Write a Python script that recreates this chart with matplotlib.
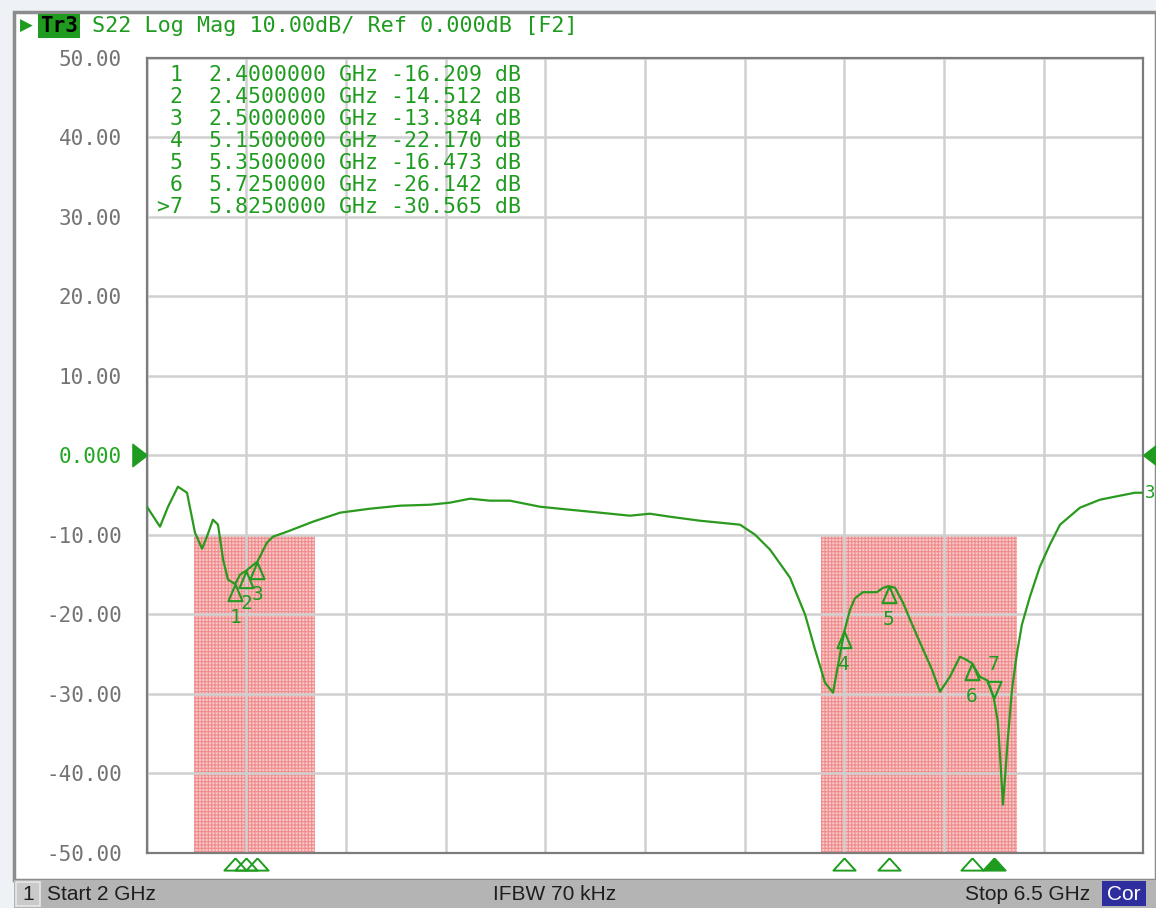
import numpy as np
import matplotlib
matplotlib.use('Agg')
import matplotlib.pyplot as plt
from matplotlib.patches import Rectangle
from matplotlib.path import Path
from matplotlib.ticker import FuncFormatter

W, H = 1156, 908

# S22 trace (GHz, dB)
freq_ghz = [2.001, 2.060, 2.096, 2.141, 2.182, 2.218, 2.250, 2.272, 2.299, 2.322,
            2.345, 2.367, 2.400, 2.421, 2.450, 2.500, 2.543, 2.570, 2.634, 2.751,
            2.873, 3.008, 3.144, 3.279, 3.369, 3.460, 3.550, 3.640, 3.776, 3.911,
            4.047, 4.182, 4.272, 4.363, 4.498, 4.679, 4.747, 4.815, 4.905, 4.973,
            5.018, 5.063, 5.099, 5.122, 5.150, 5.175, 5.198, 5.234, 5.297, 5.324,
            5.350, 5.379, 5.415, 5.447, 5.492, 5.546, 5.582, 5.627, 5.672, 5.699,
            5.725, 5.762, 5.798, 5.825, 5.843, 5.857, 5.866, 5.875, 5.888, 5.907,
            5.929, 5.952, 5.988, 6.033, 6.078, 6.124, 6.214, 6.304, 6.395, 6.462,
            6.500]
s22_db = [-6.48, -8.99, -6.50, -3.96, -4.72, -9.75, -11.76, -10.25, -8.11, -8.74,
          -13.14, -15.66, -16.21, -15.03, -14.51, -13.38, -11.00, -10.25, -9.62, -8.36,
          -7.23, -6.73, -6.35, -6.23, -5.97, -5.47, -5.72, -5.72, -6.48, -6.86,
          -7.23, -7.61, -7.36, -7.74, -8.24, -8.74, -10.00, -11.89, -15.41, -20.06,
          -24.47, -28.62, -29.87, -26.35, -22.17, -19.50, -17.99, -17.23, -17.23, -16.70,
          -16.47, -16.67, -18.55, -20.69, -23.58, -26.98, -29.75, -27.86, -25.35, -25.70,
          -26.14, -27.86, -28.37, -30.57, -33.50, -39.50, -43.96, -40.80, -35.80, -29.50,
          -25.00, -21.30, -17.80, -14.03, -11.26, -8.74, -6.60, -5.60, -5.09, -4.72,
          -4.72]

marker_ids = ['1', '2', '3', '4', '5', '6', '7']
marker_freq = [2.4, 2.45, 2.5, 5.15, 5.35, 5.725, 5.825]
marker_db = [-16.209, -14.512, -13.384, -22.170, -16.473, -26.142, -30.565]
active_marker = '7'

limit_bands = [(2.215, 2.76), (5.045, 5.93)]
limit_top = -10

green = '#1f9c1f'
mono = 'DejaVu Sans Mono'
plt.rcParams['hatch.linewidth'] = 0.8


def fx(x):
    return x / W


def fy(y):
    return 1 - y / H


fig = plt.figure(figsize=(W / 100, H / 100), dpi=100)
fig.patch.set_facecolor('#eef1f6')

# window panel and status bar (behind the axes)
fig.add_artist(Rectangle((fx(14), fy(880)), fx(1156 - 14), (880 - 12) / H,
                         transform=fig.transFigure, facecolor='white',
                         edgecolor='#8c8c8c', lw=2.5, zorder=-5))
fig.add_artist(Rectangle((fx(14), 0), fx(1156 - 14), 28 / H, transform=fig.transFigure,
                         facecolor='#b4b4b4', edgecolor='none', zorder=-4))
fig.add_artist(Rectangle((fx(16), fy(906)), fx(24), 24 / H, transform=fig.transFigure,
                         facecolor='#cacaca', edgecolor='#e8e8e8', lw=1.2, zorder=-3))
fig.add_artist(Rectangle((fx(1102), fy(906)), fx(44), 25 / H, transform=fig.transFigure,
                         facecolor='#2e2e9e', edgecolor='none', zorder=-3))

ax = fig.add_axes([fx(146.7), fy(852.7), 996.6 / W, 795 / H])
ax.set_facecolor('white')
ax.set_xlim(2, 6.5)
ax.set_ylim(-50, 50)
ax.set_xticks(np.linspace(2, 6.5, 11))
ax.set_yticks(np.arange(-50, 51, 10))
ax.xaxis.set_ticklabels([])
ax.yaxis.set_major_formatter(FuncFormatter(lambda v, p: '0.000' if v == 0 else '%.2f' % v))
ax.tick_params(length=0, pad=18)
ax.tick_params(axis='y', labelsize=15, labelcolor='#747474')
for lbl in ax.get_yticklabels():
    lbl.set_fontfamily(mono)
ax.get_yticklabels()[5].set_color('#22a822')
ax.grid(True, color='#d0d0d0', lw=1.8)
for sp in ax.spines.values():
    sp.set_color('#7c7c7c')
    sp.set_linewidth(1.6)

# limit bands
for lo, hi in limit_bands:
    ax.fill_between([lo, hi], -50, limit_top, facecolor='#f9c8c8', edgecolor='#f08c8c',
                    hatch='+++++', linewidth=0, zorder=0.5)

ax.plot(freq_ghz, s22_db, color='#2a9a1e', lw=1.6, zorder=3)

# trace markers
tri_up = Path([(0, 0), (-0.42, -1), (0.42, -1), (0, 0)])
tri_down = Path([(0, 0), (-0.42, 1), (0.42, 1), (0, 0)])
for mid, f, d in zip(marker_ids, marker_freq, marker_db):
    if mid == active_marker:
        mk, off = tri_down, 24
    else:
        mk, off = tri_up, -24
    ax.plot(f, d, marker=mk, ms=24, mfc='none', mec=green, mew=1.5, zorder=4)
    ax.annotate(mid, (f, d), xytext=(0, off), textcoords='offset points', ha='center',
                va='center', fontsize=14, family=mono, color=green, zorder=4)

# marker flags under the grid
flag = Path([(0, 0.55), (-1, -0.55), (1, -0.55), (0, 0.55)])
for mid, f in zip(marker_ids, marker_freq):
    ax.plot(f, -0.014, marker=flag, ms=16, transform=ax.get_xaxis_transform(),
            mfc=green if mid == active_marker else 'none', mec=green, mew=1.4,
            clip_on=False, zorder=5)

# reference position arrows
ref_left = Path([(0, 0), (-0.65, 0.5), (-0.65, -0.5), (0, 0)])
ref_right = Path([(0, 0), (0.65, 0.5), (0.65, -0.5), (0, 0)])
ax.plot(2, 0, marker=ref_left, ms=21, color=green, clip_on=False, zorder=5)
ax.plot(6.5, 0, marker=ref_right, ms=21, color=green, clip_on=False, zorder=5)
ax.annotate('3', (6.5, s22_db[-1]), xytext=(1, 0), textcoords='offset points', ha='left',
            va='center', fontsize=12.5, family=mono, color=green, annotation_clip=False)

# marker readout table
for i, (mid, f, d) in enumerate(zip(marker_ids, marker_freq, marker_db)):
    tag = '>' + mid if mid == active_marker else ' ' + mid
    line = '%s  %.7f GHz %.3f dB' % (tag, f, d)
    fig.text(fx(157), fy(75 + 22 * i), line, family=mono, fontsize=15.5, color=green,
             ha='left', va='center')

# header line
fig.text(fx(20), fy(26), '\u25b6', fontsize=12, color=green, ha='left', va='center')
fig.text(fx(40), fy(26), 'Tr3', family=mono, fontsize=15, fontweight='bold', color='black',
         ha='left', va='center',
         bbox=dict(boxstyle='square,pad=0.1', facecolor=green, edgecolor='none'))
fig.text(fx(92), fy(26), 'S22 Log Mag 10.00dB/ Ref 0.000dB [F2]', family=mono,
         fontsize=15.7, color=green, ha='left', va='center')

# status bar
sb = dict(family='Liberation Sans', fontsize=15, color='#1e1e1e', va='center')
fig.text(fx(28), fy(894), '1', ha='center', **sb)
fig.text(fx(47), fy(894), 'Start 2 GHz', ha='left', **sb)
fig.text(fx(555), fy(894), 'IFBW 70 kHz', ha='center', **sb)
fig.text(fx(1090), fy(894), 'Stop 6.5 GHz', ha='right', **sb)
fig.text(fx(1124), fy(894), 'Cor', ha='center', family='Liberation Sans', fontsize=15,
         color='white', va='center')

fig.savefig('out.png', dpi=100, facecolor=fig.get_facecolor())
